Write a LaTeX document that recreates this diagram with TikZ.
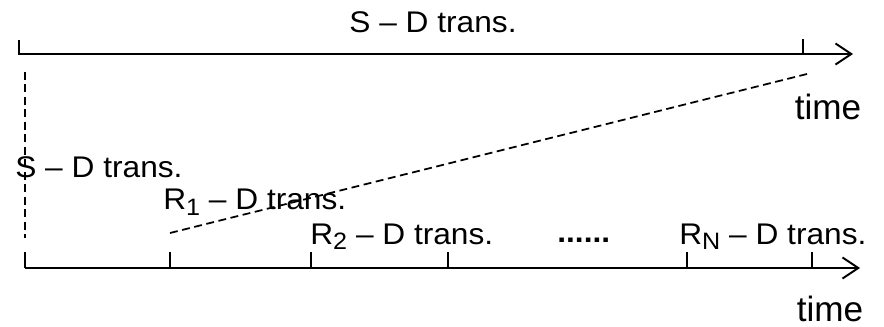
\documentclass[tikz,border=0pt]{standalone}
\usepackage{fontspec}
\setmainfont{Liberation Sans}
\usetikzlibrary{arrows.meta}
\newcommand{\lowsub}[1]{\raisebox{-0.12cm}{\fontsize{13.5}{15}\selectfont #1}}
\newcommand{\wide}[1]{\scalebox{1.06}[1]{#1}}

\begin{document}
\begin{tikzpicture}[x=0.02cm,y=-0.02cm,
  >={Straight Barb[length=9pt,width=12pt]},
  axis/.style={line width=1.1pt},
  guide/.style={line width=1pt,dash pattern=on 4.5pt off 2.6pt},
  lbl/.style={inner sep=0pt,font=\fontsize{17}{20}\selectfont},
  timelbl/.style={inner sep=0pt,font=\fontsize{20}{24}\selectfont}]
  \useasboundingbox (0,0) rectangle (884,327);
  % upper time line
  \coordinate (A0) at (19,54);
  \coordinate (A1) at (803,54);
  \coordinate (A2) at (853,54);
  \draw[axis] (19,40) -- (A0) -- (A1) -- (803,39);
  \draw[axis,->] (A1) -- (A2);
  \node[lbl,anchor=base] (SDtop) at (433,33) {\wide{S -- D trans.}};
  \node[timelbl,anchor=base] (Ttop) at (828,120) {time};
  % lower time line
  \coordinate (B0) at (25,268);
  \coordinate (B1) at (170,268);
  \coordinate (B2) at (311,268);
  \coordinate (B3) at (448,268);
  \coordinate (B4) at (687,268);
  \coordinate (B5) at (812,268);
  \coordinate (B6) at (860,268);
  \draw[axis] (B0) -- (B5);
  \draw[axis,->] (B5) -- (B6);
  \foreach \t in {B0,B1,B2,B3,B4,B5}
    \draw[axis] (\t) -- ++(0,-16);
  \node[timelbl,anchor=base] (Tbot) at (830,321) {time};
  \node[lbl,anchor=base west] (SD) at (15,178) {\wide{S -- D trans.}};
  \node[lbl,anchor=base west] (R1) at (163,210) {\wide{R\lowsub{1} -- D trans.}};
  \node[lbl,anchor=base west] (R2) at (310,244) {\wide{R\lowsub{2} -- D trans.}};
  \node[lbl,anchor=base west] (dots) at (557,242) {\wide{\textbf{......}}};
  \node[lbl,anchor=base west] (RN) at (679,244) {\wide{R\lowsub{N} -- D trans.}};
  % dashed guides
  \coordinate (V0) at (25,72);
  \coordinate (V1) at (25,238);
  \coordinate (D0) at (170,233);
  \coordinate (D1) at (811,73);
  \draw[guide] (V0) -- (V1);
  \draw[guide] (D0) -- (D1);
\end{tikzpicture}
\end{document}
